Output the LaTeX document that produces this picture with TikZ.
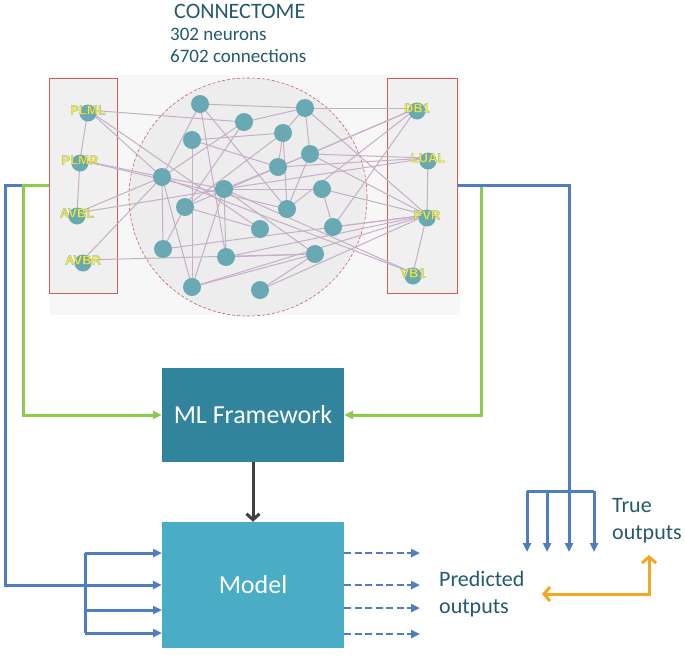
\documentclass[tikz,border=0pt]{standalone}
\usepackage{fontspec}
\setmainfont{Carlito}
\newfontfamily\lblfont{Liberation Sans}
\usetikzlibrary{arrows.meta}
\definecolor{ttl}{HTML}{245A6B}
\definecolor{neu}{HTML}{69A9B3}
\definecolor{edg}{HTML}{C6AFC6}
\definecolor{boxred}{HTML}{C9605C}
\definecolor{blu}{HTML}{4F7EC0}
\definecolor{grn}{HTML}{8CCB4E}
\definecolor{mlc}{HTML}{31849B}
\definecolor{mdc}{HTML}{4BACC6}
\definecolor{org}{HTML}{F5A623}
\definecolor{yel}{HTML}{F5E53C}
\newcommand{\outl}[1]{\special{pdf:code 2 Tr 0.08 w 0.33 0.60 0.66 RG}#1\special{pdf:code 0 Tr}}
\pgfdeclarelayer{back}
\pgfdeclarelayer{bg}
\pgfsetlayers{back,bg,main}
\begin{document}
\begin{tikzpicture}[x=1pt,y=-1pt,
  neuron/.style={circle,fill=neu,minimum size=18pt,inner sep=0pt},
  nlabel/.style={font=\lblfont\bfseries\fontsize{13}{13}\selectfont,text=yel,inner sep=1pt},
  edge/.style={draw=edg,line width=1pt},
  bluel/.style={draw=blu,line width=3pt},
  grnl/.style={draw=grn,line width=3pt},
  tip/.style={-{Triangle[length=9pt,width=8pt]}},
  sidebox/.style={draw=boxred,line width=1pt,fill=black!6,minimum width=68pt,minimum height=215pt,inner sep=0pt},
  procbox/.style={minimum width=182pt,inner sep=0pt,text=white,font=\fontsize{26}{26}\selectfont},
  ttext/.style={text=ttl,inner sep=0pt,align=left}
]
\useasboundingbox (0,0) rectangle (685,656);

% titles
\node[ttext,anchor=west,font=\fontsize{22}{22}\selectfont] (title) at (174,11) {CONNECTOME};
\node[ttext,anchor=west,font=\fontsize{19}{19}\selectfont] (sub1) at (170,34) {302 neurons};
\node[ttext,anchor=west,font=\fontsize{19}{19}\selectfont] (sub2) at (170,56) {6702 connections};

% panel
\begin{pgfonlayer}{back}
\fill[white] (0,0) rectangle (685,656);
\fill[black!3] (50,75) rectangle (460,315);
\node[sidebox] (lbox) at (83,185.5) {};
\node[sidebox,minimum width=70pt] (rbox) at (422,185.5) {};
\node[circle,draw=boxred,densely dashed,line width=0.6pt,fill=black!7,minimum size=238pt,inner sep=0pt] (brain) at (248,197) {};
\end{pgfonlayer}

% inner neurons
\node[neuron] (n1) at (200,104) {};
\node[neuron] (n2) at (305,108) {};
\node[neuron] (n3) at (244,122) {};
\node[neuron] (n4) at (192,140) {};
\node[neuron] (n5) at (283,133) {};
\node[neuron] (n6) at (310,154) {};
\node[neuron] (n7) at (278,167) {};
\node[neuron] (n8) at (162,177) {};
\node[neuron] (n9) at (224,189) {};
\node[neuron] (n10) at (322,189) {};
\node[neuron] (n11) at (185,207) {};
\node[neuron] (n12) at (287,209) {};
\node[neuron] (n13) at (260,229) {};
\node[neuron] (n14) at (333,227) {};
\node[neuron] (n15) at (163,249) {};
\node[neuron] (n16) at (226,257) {};
\node[neuron] (n17) at (315,254) {};
\node[neuron] (n18) at (192,287) {};
\node[neuron] (n19) at (260,290) {};

% labelled neurons
\foreach \nm/\px/\py in {PLML/88/110,PLMR/80/160,AVBL/77/213,AVBR/83/260,DB1/417/108,LUAL/428/158,PVR/427/215,VB1/413/273}{
  \fill[neu] (\px,\py+3) circle (8.5pt);
  \node[nlabel] (\nm) at (\px,\py) {\outl{\nm}};
}

\begin{pgfonlayer}{bg}
\foreach \a/\b in {PLML/PLMR,PLMR/AVBL,PLML/n3,PLML/n8,PLML/n13,PLMR/n8,PLMR/n12,AVBL/n8,AVBL/n9,AVBR/n8,AVBR/n17,
  n1/n2,n1/n8,n1/n12,n1/n16,n2/n3,n2/n5,n2/n6,n2/DB1,n2/PVR,n3/n8,n3/n11,n4/n5,n4/n7,n4/n18,n5/n7,n5/n12,
  n6/LUAL,n6/n7,n6/n12,n6/PVR,n7/n9,n7/LUAL,n8/n9,n8/n15,n8/n18,n9/n10,n9/n16,n9/n18,n9/n17,n9/LUAL,n9/VB1,
  n10/n14,n10/PVR,n11/n13,n11/n5,n12/DB1,n14/DB1,n14/PVR,n15/PVR,n15/n11,n16/PVR,n16/n17,n17/n19,n18/n17,
  n18/PVR,n19/PVR,DB1/n6,LUAL/PVR,PVR/VB1,n8/VB1,n11/DB1}{
  \draw[edge] (\a.center) -- (\b.center);
}
\end{pgfonlayer}

% process boxes
\node[procbox,fill=mlc,minimum height=94pt] (ml) at (253,415) {ML Framework};
\node[procbox,fill=mdc,minimum height=126pt] (model) at (253,585) {Model};
\draw[draw=black!75,line width=3pt,-{Straight Barb[length=6pt,width=13pt]}] (ml.south) -- (model.north);

% left blue input
\coordinate (mi1) at (162,553);
\coordinate (mi3) at (162,610);
\coordinate (mi4) at (162,633);
\coordinate (bl1) at (85,553);
\coordinate (bl3) at (85,610);
\coordinate (bl4) at (85,633);
\draw[bluel,tip] (lbox.west) -- (5,185.5) |- (model.west);
\draw[bluel] (bl1) -- (bl4);
\draw[bluel,tip] (bl1) -- (mi1);
\draw[bluel,tip] (bl3) -- (mi3);
\draw[bluel,tip] (bl4) -- (mi4);

% green lines
\draw[grnl,tip] (lbox.west) -- (23,185.5) |- (ml.west);
\draw[grnl,tip] (rbox.east) -- (481,185.5) |- (ml.east);

% right blue (true outputs)
\coordinate (tb) at (569,491);
\coordinate (tl) at (527,491);
\coordinate (tr) at (594,491);
\draw[bluel] (rbox.east) -- (569,185.5) -- (tb);
\draw[bluel] (tl) -- (tr);
\foreach \x/\nm in {527/to1,547/to2,569/to3,594/to4}{
  \coordinate (\nm) at (\x,552);
  \draw[bluel,tip] (\x,491) -- (\nm);
}

% dashed outputs
\foreach \y/\nm in {553/po1,585/po2,608/po3,634/po4}{
  \coordinate (\nm) at (420,\y);
  \draw[draw=blu,line width=2.6pt,dash pattern=on 7pt off 3.5pt,tip] (344,\y) -- (\nm);
}

% labels
\node[ttext,anchor=west,font=\fontsize{22}{27}\selectfont] (pred) at (439,594) {Predicted\\outputs};
\node[ttext,anchor=west,font=\fontsize{22}{27}\selectfont] (true) at (612,521) {True\\outputs};

% orange
\coordinate (oa) at (542,594);
\coordinate (ob) at (649,555);
\draw[draw=org,line width=3pt,{Straight Barb[length=6pt,width=14pt]}-{Straight Barb[length=6pt,width=14pt]}] (oa) -| (ob);
\end{tikzpicture}
\end{document}
